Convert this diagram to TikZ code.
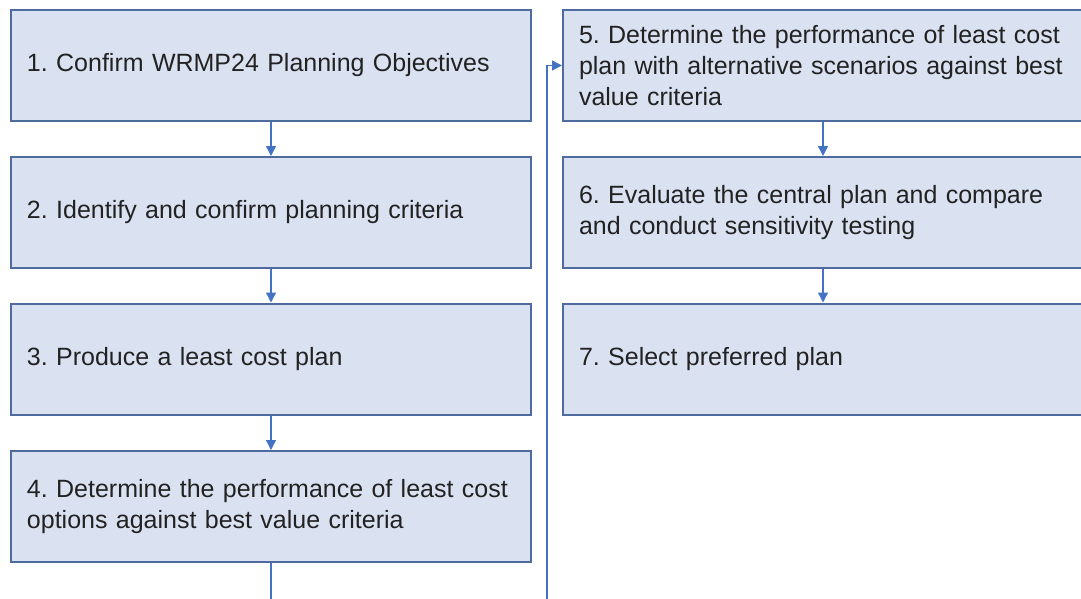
\documentclass[tikz,border=0pt]{standalone}
\usepackage{fontspec}
\setmainfont{Liberation Sans}
\usetikzlibrary{arrows.meta}
\definecolor{boxfill}{HTML}{DAE1F1}
\definecolor{boxline}{HTML}{4E6A9E}
\definecolor{arrowc}{HTML}{4472C4}
\definecolor{txt}{HTML}{222222}
\frenchspacing
\begin{document}
\begin{tikzpicture}[x=1pt,y=1pt,
  stepbox/.style={draw=boxline, line width=2pt, fill=boxfill, rectangle,
    minimum width=520pt, minimum height=111pt, text width=488pt,
    inner xsep=16pt, align=left, text=txt,
    font=\fontsize{25}{31}\selectfont\frenchspacing},
  arr/.style={draw=arrowc, line width=1.3pt, -{Triangle[length=10pt,width=10pt]}}]
\useasboundingbox (0,0) rectangle (1081,-599);
\node[stepbox] (b1) at (271,-65.5) {1. Confirm WRMP24 Planning Objectives};
\node[stepbox] (b2) at (271,-212.5) {2. Identify and confirm planning criteria};
\node[stepbox] (b3) at (271,-359) {3. Produce a least cost plan};
\node[stepbox] (b4) at (271,-506.5) {4. Determine the performance of least cost\\options against best value criteria};
\node[stepbox] (b5) at (823,-65.5) {\mbox{5. Determine the performance of least cost}\\\mbox{plan with alternative scenarios against best}\\value criteria};
\node[stepbox] (b6) at (823,-212.5) {6. Evaluate the central plan and compare\\and conduct sensitivity testing};
\node[stepbox] (b7) at (823,-359) {7. Select preferred plan};
\draw[arr] (b1) -- (b2);
\draw[arr] (b2) -- (b3);
\draw[arr] (b3) -- (b4);
\draw[arr] (b5) -- (b6);
\draw[arr] (b6) -- (b7);
\coordinate (low) at (271,-640);
\draw[arr] (b4.south) -- (low) -| ([xshift=-15pt]b5.west) -- (b5.west);
\end{tikzpicture}
\end{document}
